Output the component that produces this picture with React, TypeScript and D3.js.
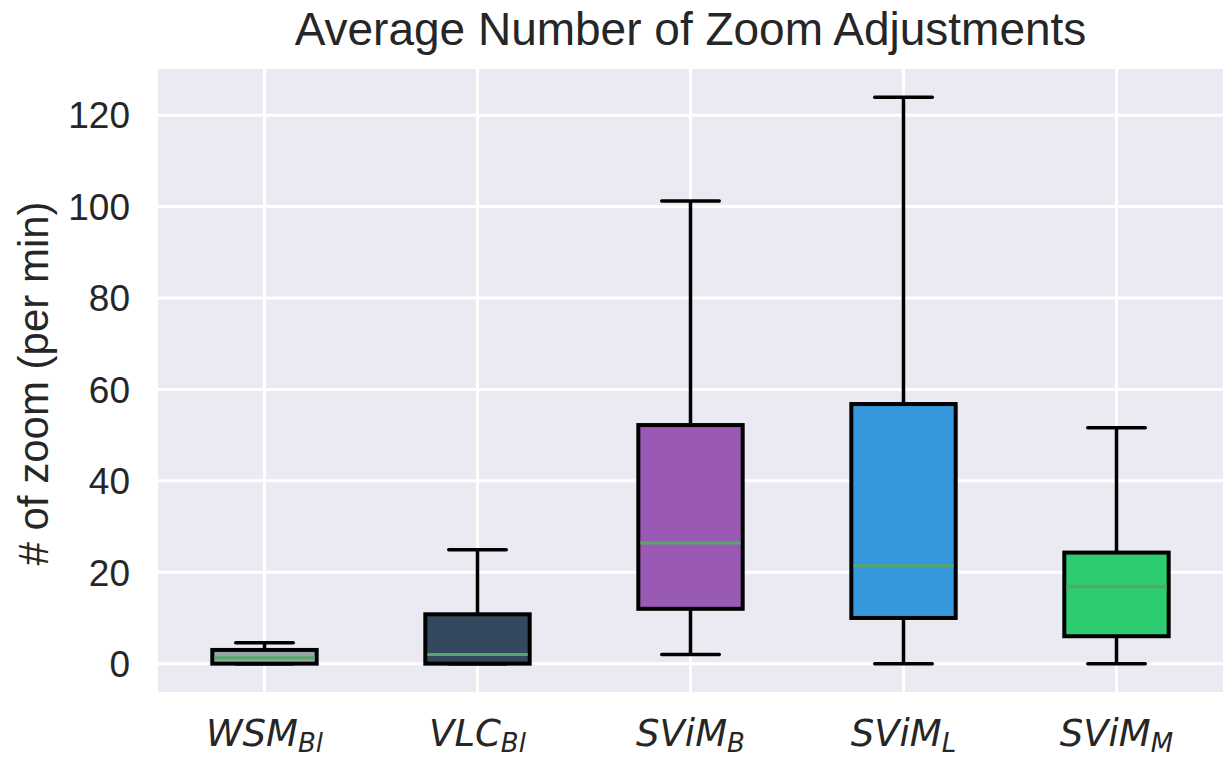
import { useEffect, useRef } from 'react';
import * as d3 from 'd3';

// box plot stats
const labels = ['WSM', 'VLC', 'SViM', 'SViM', 'SViM'];
const subLabels = ['Bl', 'Bl', 'B', 'L', 'M'];
const whiskerLow = [0, 0, 2, 0, 0];
const q1 = [0, 0, 12, 10, 6];
const median = [1.3, 2, 26.4, 21.4, 16.8];
const q3 = [3, 10.8, 52.2, 56.8, 24.3];
const whiskerHigh = [4.6, 24.9, 101.2, 123.9, 51.6];
const boxColors = ['#95a5a6', '#34495e', '#9b59b6', '#3498db', '#2ecc71'];
const yTicks = [0, 20, 40, 60, 80, 100, 120];

const W = 1228;
const H = 760;
const margin = { top: 69, right: 5, bottom: 68, left: 158 };
const FONT = 'Arial, "Liberation Sans", sans-serif';

export default function App() {
  const ref = useRef<SVGSVGElement | null>(null);

  useEffect(() => {
    document.body.style.margin = '0';
    if (!ref.current) return;
    const svg = d3.select(ref.current);
    svg.selectAll('*').remove();

    const x0 = margin.left;
    const x1 = W - margin.right;
    const y0 = H - margin.bottom;
    const y1 = margin.top;

    const idx = labels.map((_d, i) => String(i));
    const x = d3.scaleBand().domain(idx).range([x0, x1]).padding(0);
    const y = d3.scaleLinear().domain([-6.2, 130.1]).range([y0, y1]);
    const cx = (d: string) => x(d)! + x.bandwidth() / 2;

    // panel background
    svg
      .append('rect')
      .attr('x', x0)
      .attr('y', y1)
      .attr('width', x1 - x0)
      .attr('height', y0 - y1)
      .attr('fill', '#eaeaf2');

    const grid = svg.append('g');
    grid
      .selectAll('line.h')
      .data(yTicks)
      .enter()
      .append('line')
      .attr('x1', x0)
      .attr('x2', x1)
      .attr('y1', (d) => y(d))
      .attr('y2', (d) => y(d))
      .attr('stroke', '#fff')
      .attr('stroke-width', 3);
    grid
      .selectAll('line.v')
      .data(idx)
      .enter()
      .append('line')
      .attr('x1', cx)
      .attr('x2', cx)
      .attr('y1', y1)
      .attr('y2', y0)
      .attr('stroke', '#fff')
      .attr('stroke-width', 3);

    const boxW = x.bandwidth() * 0.49;
    const capW = x.bandwidth() * 0.27;

    const boxes = svg
      .append('g')
      .selectAll('g')
      .data(idx)
      .enter()
      .append('g')
      .attr('transform', (d) => `translate(${cx(d)},0)`);

    // whiskers
    boxes
      .append('line')
      .attr('y1', (_d, i) => y(q3[i]))
      .attr('y2', (_d, i) => y(whiskerHigh[i]))
      .attr('stroke', '#000')
      .attr('stroke-width', 3.5);
    boxes
      .append('line')
      .attr('y1', (_d, i) => y(q1[i]))
      .attr('y2', (_d, i) => y(whiskerLow[i]))
      .attr('stroke', '#000')
      .attr('stroke-width', 3.5);
    boxes
      .append('line')
      .attr('x1', -capW / 2)
      .attr('x2', capW / 2)
      .attr('y1', (_d, i) => y(whiskerHigh[i]))
      .attr('y2', (_d, i) => y(whiskerHigh[i]))
      .attr('stroke', '#000')
      .attr('stroke-width', 3.5)
      .attr('stroke-linecap', 'round');
    boxes
      .append('line')
      .attr('x1', -capW / 2)
      .attr('x2', capW / 2)
      .attr('y1', (_d, i) => y(whiskerLow[i]))
      .attr('y2', (_d, i) => y(whiskerLow[i]))
      .attr('stroke', '#000')
      .attr('stroke-width', 3.5)
      .attr('stroke-linecap', 'round');

    // boxes
    boxes
      .append('rect')
      .attr('x', -boxW / 2)
      .attr('width', boxW)
      .attr('y', (_d, i) => y(q3[i]))
      .attr('height', (_d, i) => y(q1[i]) - y(q3[i]))
      .attr('fill', (_d, i) => boxColors[i])
      .attr('stroke', '#000')
      .attr('stroke-width', 4);

    // medians
    boxes
      .append('line')
      .attr('x1', -boxW / 2 + 2)
      .attr('x2', boxW / 2 - 2)
      .attr('y1', (_d, i) => y(median[i]))
      .attr('y2', (_d, i) => y(median[i]))
      .attr('stroke', '#55a868')
      .attr('stroke-width', 3);

    // y tick labels
    svg
      .append('g')
      .selectAll('text')
      .data(yTicks)
      .enter()
      .append('text')
      .attr('x', x0 - 28)
      .attr('y', (d) => y(d))
      .attr('dy', '0.36em')
      .attr('text-anchor', 'end')
      .attr('font-family', FONT)
      .attr('font-size', 37)
      .attr('fill', '#262626')
      .text((d) => d);

    // x tick labels, mathtext style italics with subscript
    const xl = svg
      .append('g')
      .selectAll('text')
      .data(idx)
      .enter()
      .append('text')
      .attr('x', cx)
      .attr('y', 746)
      .attr('text-anchor', 'middle')
      .attr('font-family', '"DejaVu Sans", sans-serif')
      .attr('font-style', 'italic')
      .attr('font-size', 37)
      .attr('fill', '#262626');
    xl.append('tspan').text((_d, i) => labels[i]);
    xl.append('tspan')
      .attr('font-size', 26)
      .attr('dy', 6)
      .text((_d, i) => subLabels[i]);

    // y axis label
    svg
      .append('text')
      .attr('transform', `translate(48,${(y0 + y1) / 2 + 3}) rotate(-90)`)
      .attr('text-anchor', 'middle')
      .attr('font-family', FONT)
      .attr('font-size', 42)
      .attr('fill', '#262626')
      .text('# of zoom (per min)');

    // title
    svg
      .append('text')
      .attr('x', (x0 + x1) / 2)
      .attr('y', 45)
      .attr('text-anchor', 'middle')
      .attr('font-family', FONT)
      .attr('font-size', 46)
      .attr('fill', '#262626')
      .text('Average Number of Zoom Adjustments');
  }, []);

  return <svg ref={ref} width={W} height={H} style={{ display: 'block', background: '#fff' }} />;
}
